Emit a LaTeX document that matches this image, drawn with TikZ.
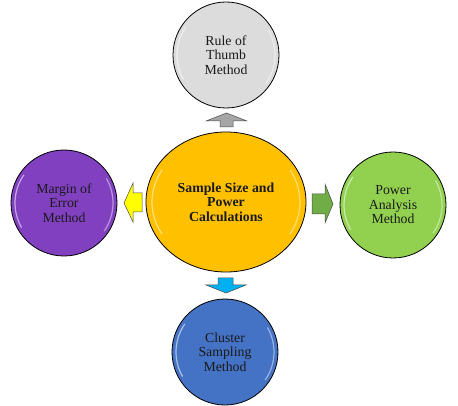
\documentclass[tikz,border=0pt]{standalone}
\usepackage{fontspec}
\setmainfont{Liberation Serif}
\usetikzlibrary{shapes.geometric}
\definecolor{cgray}{HTML}{DCDCDC}
\definecolor{cpurple}{HTML}{8040C0}
\definecolor{cgreen}{HTML}{92D050}
\definecolor{cblue}{HTML}{4472C4}
\definecolor{cyel}{HTML}{FFC000}
\definecolor{agray}{HTML}{A6A6A6}
\definecolor{ayel}{HTML}{FFFF00}
\definecolor{agreen}{HTML}{70AD47}
\definecolor{ablue}{HTML}{00B0F0}
\definecolor{txt}{HTML}{1A1A1A}
\begin{document}
\begin{tikzpicture}[x=1pt,y=-1pt,
  bubble/.style={circle,draw=black,line width=0.8pt,minimum size=106pt,inner sep=0pt,align=center,
    font=\fontsize{13.8}{14.5}\selectfont,text=txt},
  blockarrow/.style={draw=black!70,line width=0.5pt,line join=miter}]
\useasboundingbox (0,0) rectangle (458,406);
% center
\node[ellipse,draw=black,line width=0.8pt,fill=cyel,minimum width=160pt,minimum height=140pt,inner sep=0pt,align=center,
  font=\bfseries\fontsize{13.8}{14.5}\selectfont,text=txt] (c) at (226,202) {Sample Size and\\Power\\Calculations};
\node[bubble,fill=cgray] (t) at (226,55) {Rule of\\Thumb\\Method};
\node[bubble,fill=cpurple] (l) at (64,203) {Margin of\\Error\\Method};
\node[bubble,fill=cgreen] (r) at (393,205) {Power\\Analysis\\Method};
\node[bubble,fill=cblue] (b) at (225,352) {Cluster\\Sampling\\Method};
% highlights
\foreach \n in {t,l,r,b}{
  \draw[white,opacity=0.55,line width=1.2pt] (\n.center) ++(150:49) arc (150:215:49);
  \draw[white,opacity=0.45,line width=1.2pt] (\n.center) ++(-30:49) arc (-30:35:49);
}
\draw[white,opacity=0.5,line width=1.2pt] (c.center) ++(150:74 and 64) arc[start angle=150,end angle=210,x radius=74,y radius=64];
\draw[white,opacity=0.45,line width=1.2pt] (c.center) ++(-30:74 and 64) arc[start angle=-30,end angle=30,x radius=74,y radius=64];
% arrows
\draw[blockarrow,fill=agray] (226.5,113) -- (247,121) -- (233,121) -- (233,127) -- (220,127) -- (220,121) -- (206,121) -- cycle;
\draw[blockarrow,fill=ablue] (226,293) -- (246,285) -- (233,285) -- (233,278) -- (218,278) -- (218,285) -- (206,285) -- cycle;
\draw[blockarrow,fill=ayel] (124,203) -- (133,183) -- (133,193) -- (142,193) -- (142,212) -- (133,212) -- (133,222) -- cycle;
\draw[blockarrow,fill=agreen] (333,204) -- (325,184) -- (325,194) -- (312,194) -- (312,214) -- (325,214) -- (325,223) -- cycle;
\end{tikzpicture}
\end{document}
